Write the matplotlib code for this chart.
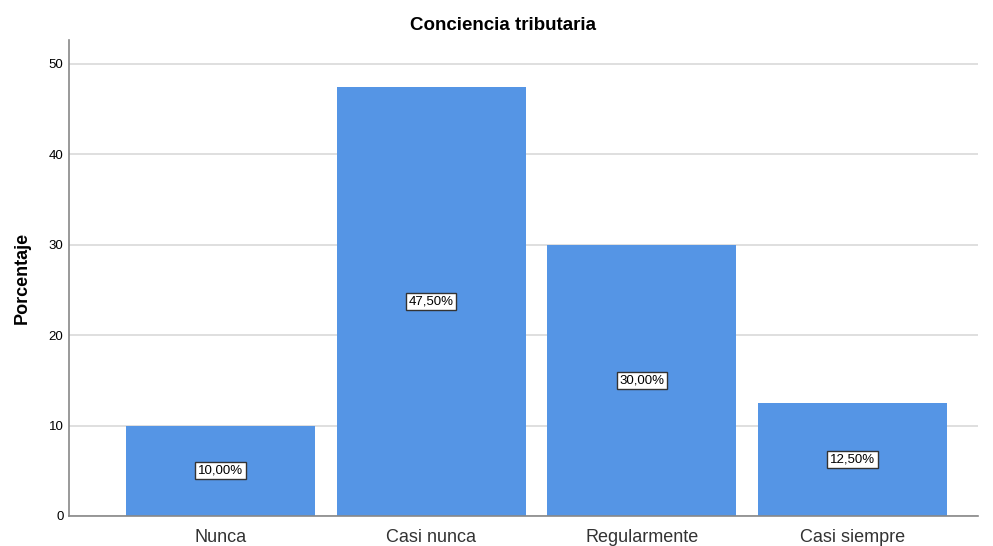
import numpy as np
import matplotlib.pyplot as plt

plt.rcParams['font.family'] = ['Liberation Sans', 'DejaVu Sans']

categories = ["Nunca", "Casi nunca", "Regularmente", "Casi siempre"]
percentages = [10.0, 47.5, 30.0, 12.5]
labels = ["10,00%", "47,50%", "30,00%", "12,50%"]
yticks = [0, 10, 20, 30, 40, 50]

fig = plt.figure(figsize=(9.93, 5.46), dpi=100)
ax = fig.add_axes([69/993, 1 - 516/546, (978 - 69)/993, (516 - 40)/546])

x = np.arange(len(categories))
ax.bar(x, percentages, width=0.896, color="#5595e5", zorder=2)

for xi, v, lab in zip(x, percentages, labels):
    ax.text(xi, v / 2, lab, ha="center", va="center", fontsize=9.5, zorder=3,
            bbox=dict(boxstyle="square,pad=0.2", fc="white", ec="#333333", lw=1))

ax.set_xlim(-0.718, 3.595)
ax.set_ylim(0, 52.65)
ax.set_yticks(yticks)
ax.set_xticks(x)
ax.set_xticklabels(categories, fontsize=13, color="#333333")
ax.tick_params(axis="y", length=0, labelsize=9.5, pad=4)
ax.tick_params(axis="x", length=0, pad=9)
ax.grid(axis="y", color="#d9d9d9", lw=1.2, zorder=1)
ax.set_axisbelow(True)

for s in ["top", "right"]:
    ax.spines[s].set_visible(False)
ax.spines["left"].set_color("#888888")
ax.spines["bottom"].set_color("#888888")
ax.spines["left"].set_linewidth(1.2)
ax.spines["bottom"].set_linewidth(1.2)

ax.set_ylabel("Porcentaje", fontsize=13, fontweight="bold", labelpad=13)
fig.text(503/993, 1 - 25/546, "Conciencia tributaria", ha="center", va="center",
         fontsize=13.5, fontweight="bold")

fig.savefig("out.png", dpi=100)
